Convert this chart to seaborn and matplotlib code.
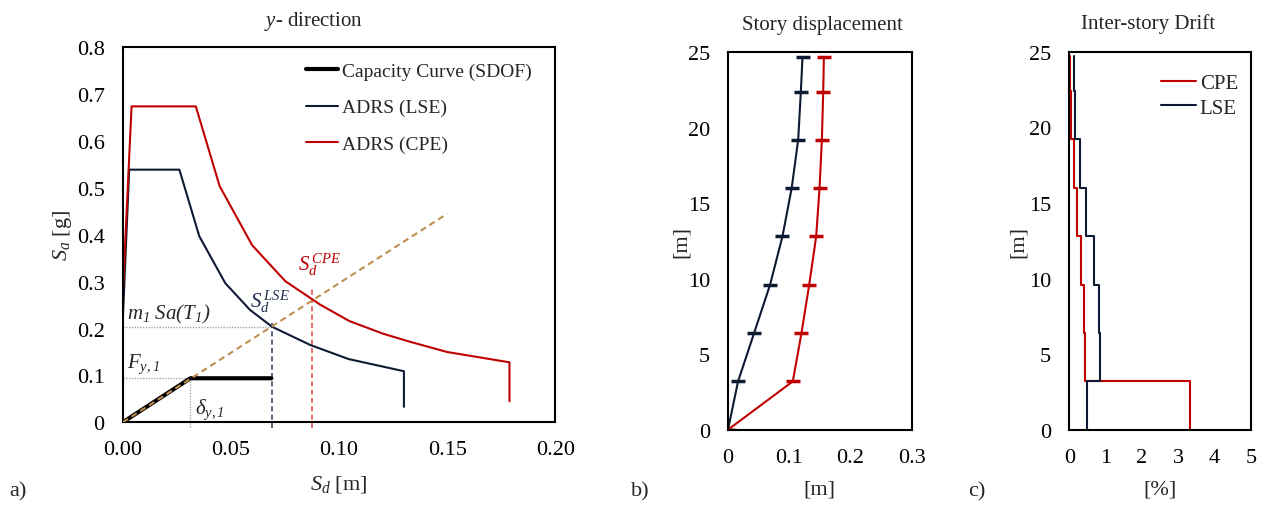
import numpy as np
import pandas as pd
import matplotlib
matplotlib.use("Agg")
import matplotlib.pyplot as plt
import seaborn as sns

# ---- a) capacity spectrum method, y-direction ----
sd_lse = [0.0, 0.003, 0.0262, 0.0354, 0.0474, 0.0588, 0.069, 0.0867, 0.1044, 0.130, 0.130]
sa_lse = [0.215, 0.539, 0.539, 0.397, 0.297, 0.240, 0.204, 0.165, 0.135, 0.109, 0.033]

sd_cpe = [0.0, 0.0041, 0.0338, 0.0448, 0.0598, 0.0752, 0.0913, 0.1048, 0.1204, 0.1327, 0.150, 0.1788, 0.1788]
sa_cpe = [0.27, 0.674, 0.674, 0.504, 0.378, 0.301, 0.251, 0.216, 0.189, 0.172, 0.150, 0.128, 0.045]

sd_cap = [0.0, 0.0313, 0.0687]
sa_cap = [0.0, 0.094, 0.094]

sd_demand = [0.0, 0.150]
sa_demand = [0.0, 0.445]

sd_yield, fy_yield = 0.0313, 0.094
sd_pp_lse, sa_pp_lse = 0.069, 0.204
sd_pp_cpe, sa_pp_cpe = 0.0873, 0.258

# ---- b) story displacement / c) inter-story drift ----
heights = [0.0, 3.2, 6.4, 9.6, 12.8, 16.0, 19.2, 22.4, 24.7]
disp_lse = [0.0, 0.0164, 0.0426, 0.0687, 0.0889, 0.104, 0.1146, 0.119, 0.1217]
disp_cpe = [0.0, 0.1058, 0.120, 0.1326, 0.144, 0.1495, 0.1533, 0.1555, 0.1566]

drift_cpe = [3.31, 0.44, 0.40, 0.31, 0.21, 0.12, 0.046, 0.03]
drift_lse = [0.50, 0.84, 0.81, 0.67, 0.47, 0.29, 0.15, 0.12]

RED = "#C00000"
NAVY = "#0E1A33"
BROWN = "#BF8F4F"
GREY = "#A6A6A6"

sns.set_theme(style="white")
plt.rcParams["font.family"] = ["Liberation Serif", "DejaVu Serif"]
plt.rcParams["mathtext.fontset"] = "custom"
plt.rcParams["mathtext.rm"] = "Liberation Serif:italic"
plt.rcParams["mathtext.it"] = "Liberation Serif:italic"
plt.rcParams["mathtext.bf"] = "Liberation Serif:bold"
plt.rcParams["mathtext.default"] = "it"

FS = 16
fig = plt.figure(figsize=(12.65, 5.06), dpi=100)
ax_a = fig.add_axes([0.0970, 0.1634, 0.3420, 0.7411])
ax_b = fig.add_axes([0.5755, 0.1488, 0.1452, 0.7459])
ax_c = fig.add_axes([0.8453, 0.1488, 0.1436, 0.7470])


def style_axes(ax):
    for s in ax.spines.values():
        s.set_visible(True)
        s.set_color("black")
        s.set_linewidth(1.5)
    ax.tick_params(length=0, pad=13, labelsize=FS, colors="black")
    ax.grid(False)


# panel a
sns.lineplot(x=sd_cap, y=sa_cap, ax=ax_a, color="black", lw=3, sort=False,
             estimator=None, label="Capacity Curve (SDOF)")
sns.lineplot(x=sd_lse, y=sa_lse, ax=ax_a, color=NAVY, lw=1.5, sort=False,
             estimator=None, label="ADRS (LSE)")
sns.lineplot(x=sd_cpe, y=sa_cpe, ax=ax_a, color=RED, lw=1.5, sort=False,
             estimator=None, label="ADRS (CPE)")
ax_a.plot(sd_demand, sa_demand, color=BROWN, lw=1.5, ls=(0, (3, 2)), zorder=4)

# reference lines for yield and performance points
ax_a.plot([0, sd_pp_lse], [sa_pp_lse, sa_pp_lse], color=GREY, lw=1, ls=(0, (1, 1)), zorder=1)
ax_a.plot([0, sd_yield], [fy_yield, fy_yield], color=GREY, lw=1, ls=(0, (1, 1)), zorder=1)
ax_a.plot([sd_yield, sd_yield], [-0.01, fy_yield], color=GREY, lw=1, ls=(0, (1, 1)),
          zorder=1, clip_on=False)
ax_a.plot([sd_pp_lse, sd_pp_lse], [-0.013, 0.218], color="#3A4A6B", lw=1.2,
          ls=(0, (3, 2)), zorder=1, clip_on=False)
ax_a.plot([sd_pp_cpe, sd_pp_cpe], [-0.013, 0.284], color="#E05050", lw=1.2,
          ls=(0, (3, 2)), zorder=1, clip_on=False)

ax_a.text(0.0018, 0.207, r"$m_1\ Sa(T_1)$", fontsize=15, va="bottom", ha="left")
ax_a.text(0.0018, 0.102, r"$F_{y,1}$", fontsize=15, va="bottom", ha="left")
ax_a.text(0.0335, 0.003, r"$\delta_{y,1}$", fontsize=15, va="bottom", ha="left")
ax_a.text(0.0590, 0.232, r"$S_d^{\,LSE}$", fontsize=15, va="bottom", ha="left", color="#1F2D4D")
ax_a.text(0.0812, 0.310, r"$S_d^{\,CPE}$", fontsize=15, va="bottom", ha="left", color=RED)

ax_a.set_xlim(0, 0.20)
ax_a.set_ylim(0, 0.8)
ax_a.set_xticks([0, 0.05, 0.10, 0.15, 0.20])
ax_a.set_xticklabels(["0.00", "0.05", "0.10", "0.15", "0.20"])
ax_a.set_yticks(np.arange(0, 0.81, 0.1))
ax_a.set_yticklabels(["0", "0.1", "0.2", "0.3", "0.4", "0.5", "0.6", "0.7", "0.8"])
style_axes(ax_a)
ax_a.set_xlabel(r"$S_d$ [m]", fontsize=FS, labelpad=9.5)
ax_a.set_ylabel(r"$S_a$ [g]", fontsize=FS, labelpad=2)
ax_a.set_title(r"$y$- direction", fontsize=15, pad=16, x=0.44)
ax_a.legend(loc="upper left", bbox_to_anchor=(0.405, 0.98), frameon=False,
            fontsize=14, handlelength=1.65, handletextpad=0.2, labelspacing=0.95,
            borderaxespad=0)

# panel b
sns.lineplot(x=disp_lse, y=heights, ax=ax_b, color=NAVY, lw=1.5, sort=False,
             estimator=None, marker="_", markersize=10, markeredgewidth=2.5,
             markeredgecolor=NAVY)
sns.lineplot(x=disp_cpe, y=heights, ax=ax_b, color=RED, lw=1.5, sort=False,
             estimator=None, marker="_", markersize=10, markeredgewidth=2.5,
             markeredgecolor=RED)
ax_b.set_xlim(0, 0.3)
ax_b.set_ylim(0, 25)
ax_b.set_xticks([0, 0.1, 0.2, 0.3])
ax_b.set_xticklabels(["0", "0.1", "0.2", "0.3"])
ax_b.set_yticks([0, 5, 10, 15, 20, 25])
style_axes(ax_b)
ax_b.set_xlabel("[m]", fontsize=FS, labelpad=9)
ax_b.set_ylabel("[m]", fontsize=FS, labelpad=-2)
ax_b.set_title("Story displacement", fontsize=15, pad=17, x=0.512)


# panel c: drifts drawn as constant over each storey
def storey_steps(drift):
    xs, ys = [], []
    for i, d in enumerate(drift):
        xs += [d, d]
        ys += [heights[i], heights[i + 1]]
    return xs, ys


cx, cy = storey_steps(drift_cpe)
lx, ly = storey_steps(drift_lse)
sns.lineplot(x=cx, y=cy, ax=ax_c, color=RED, lw=1.5, sort=False, estimator=None, label="CPE")
sns.lineplot(x=lx, y=ly, ax=ax_c, color=NAVY, lw=1.5, sort=False, estimator=None, label="LSE")
ax_c.set_xlim(0, 5)
ax_c.set_ylim(0, 25)
ax_c.set_xticks([0, 1, 2, 3, 4, 5])
ax_c.set_yticks([0, 5, 10, 15, 20, 25])
style_axes(ax_c)
ax_c.set_xlabel("[%]", fontsize=FS, labelpad=9)
ax_c.set_ylabel("[m]", fontsize=FS, labelpad=1)
ax_c.set_title("Inter-story Drift", fontsize=15, pad=17, x=0.433)
ax_c.legend(loc="upper left", bbox_to_anchor=(0.46, 0.965), frameon=False,
            fontsize=15, handlelength=1.65, handletextpad=0.2, labelspacing=0.25,
            borderaxespad=0)

fig.text(9 / 1265, 1 - 492 / 506, "a)", fontsize=FS, va="center", ha="left")
fig.text(631 / 1265, 1 - 492 / 506, "b)", fontsize=FS, va="center", ha="left")
fig.text(968 / 1265, 1 - 492 / 506, "c)", fontsize=FS, va="center", ha="left")

fig.savefig("out.png", dpi=100, facecolor="white")
